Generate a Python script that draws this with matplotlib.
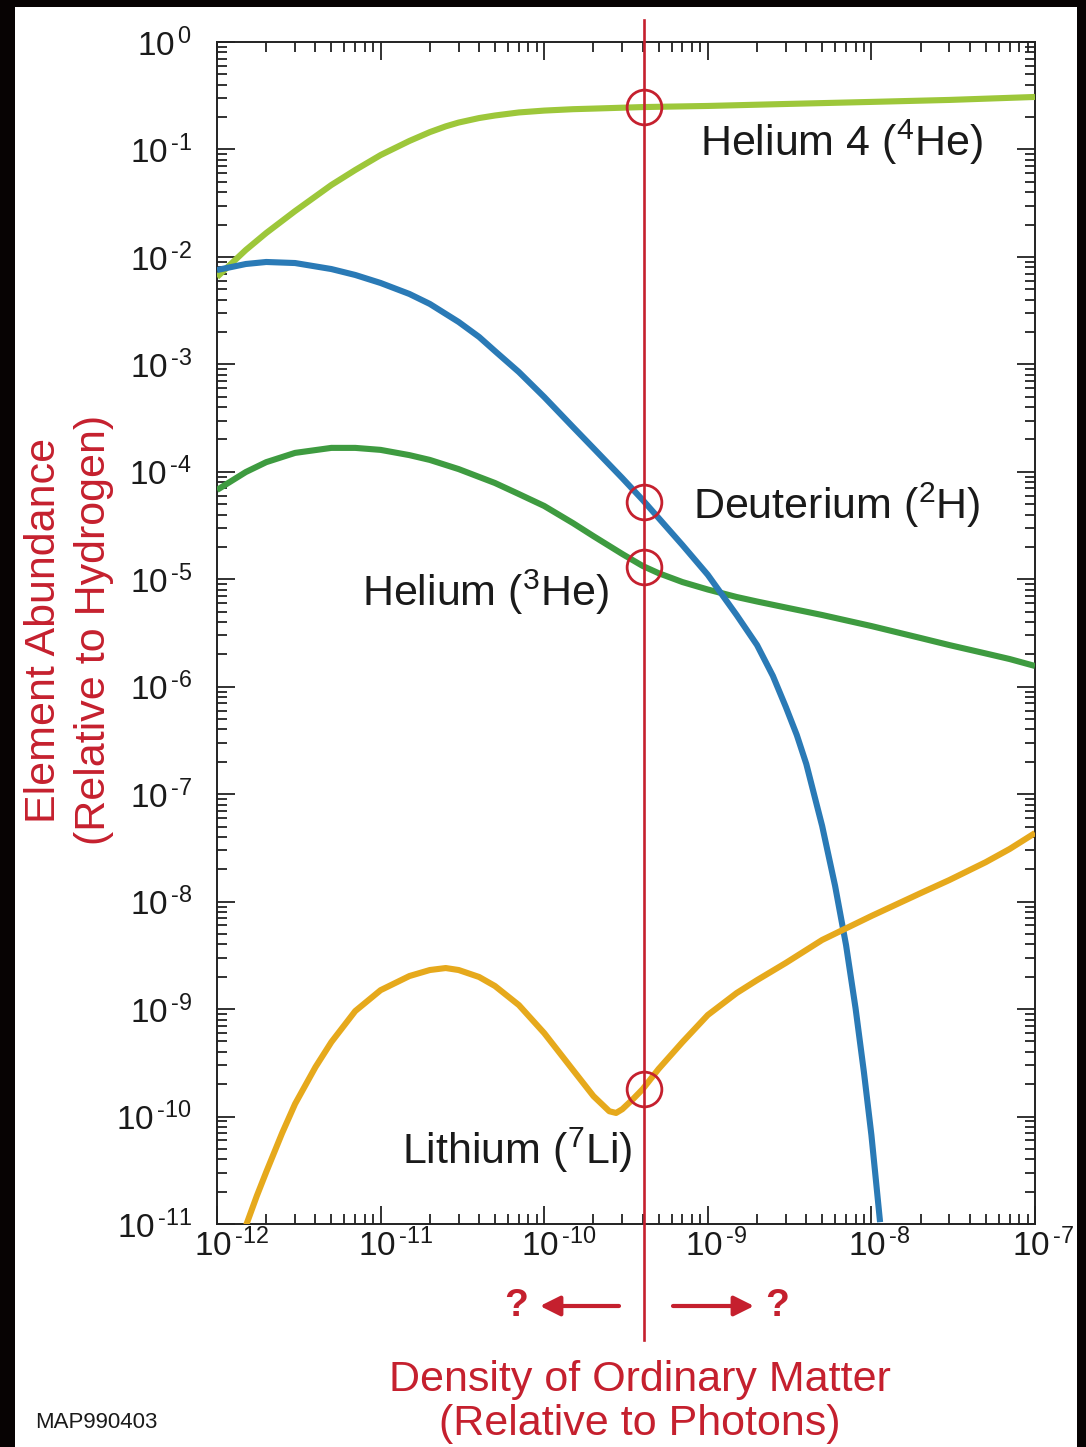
import numpy as np
import matplotlib
matplotlib.use("Agg")
import matplotlib.pyplot as plt
from matplotlib.ticker import LogLocator, FuncFormatter, NullFormatter
from matplotlib.patches import Rectangle
from matplotlib.transforms import ScaledTranslation

plt.rcParams['font.family'] = ['Liberation Sans', 'DejaVu Sans']
plt.rcParams['mathtext.fontset'] = 'custom'
plt.rcParams['mathtext.rm'] = 'Liberation Sans'
plt.rcParams['mathtext.it'] = 'Liberation Sans'
plt.rcParams['mathtext.bf'] = 'Liberation Sans:bold'

# ---------------- data ----------------
x_limits = [1e-12, 1e-7]
y_limits = [1e-11, 1e0]
eta_observed = 4.1e-10

he4_x = [1e-12, 1.5e-12, 2e-12, 3e-12, 5e-12, 7e-12, 1e-11, 1.5e-11, 2e-11, 2.5e-11,
         3e-11, 4e-11, 5e-11, 7e-11, 1e-10, 1.5e-10, 2e-10, 4e-10, 1e-9, 3e-9,
         1e-8, 3e-8, 1e-7]
he4_y = [6.50e-3, 1.16e-2, 1.67e-2, 2.67e-2, 4.67e-2, 6.44e-2, 8.87e-2, 0.120, 0.145, 0.164,
         0.178, 0.196, 0.207, 0.221, 0.230, 0.237, 0.240, 0.248, 0.254, 0.265,
         0.277, 0.289, 0.308]

d_x = [1e-12, 1.5e-12, 2e-12, 3e-12, 5e-12, 7e-12, 1e-11, 1.5e-11, 2e-11, 3e-11,
       4e-11, 5e-11, 7e-11, 1e-10, 1.5e-10, 2e-10, 3e-10, 4e-10, 5e-10, 7e-10, 1e-9,
       1.5e-9, 2e-9, 2.5e-9, 3e-9, 3.5e-9, 4e-9, 5e-9, 6e-9, 7e-9, 8e-9, 9e-9, 1e-8, 1.13e-8]
d_y = [7.55e-3, 8.59e-3, 8.97e-3, 8.77e-3, 7.71e-3, 6.79e-3, 5.72e-3, 4.52e-3, 3.65e-3, 2.48e-3,
       1.80e-3, 1.33e-3, 8.49e-4, 4.97e-4, 2.61e-4, 1.66e-4, 8.75e-5, 5.47e-5, 3.72e-5, 2.08e-5, 1.10e-5,
       4.65e-6, 2.44e-6, 1.26e-6, 6.47e-7, 3.55e-7, 1.91e-7, 5.06e-8, 1.40e-8, 3.94e-9, 1.02e-9,
       2.59e-10, 6.73e-11, 1.04e-11]

he3_x = [1e-12, 1.5e-12, 2e-12, 3e-12, 5e-12, 7e-12, 1e-11, 1.5e-11, 2e-11, 3e-11,
         5e-11, 7e-11, 1e-10, 1.5e-10, 2e-10, 3e-10, 4e-10, 5e-10, 7e-10, 1e-9,
         1.5e-9, 2e-9, 3e-9, 5e-9, 1e-8, 2e-8, 3e-8, 5e-8, 7e-8, 1e-7]
he3_y = [6.78e-5, 9.95e-5, 1.23e-4, 1.50e-4, 1.67e-4, 1.67e-4, 1.60e-4, 1.43e-4, 1.29e-4, 1.06e-4,
         7.87e-5, 6.21e-5, 4.81e-5, 3.33e-5, 2.52e-5, 1.72e-5, 1.33e-5, 1.14e-5, 9.42e-6, 8.03e-6,
         6.84e-6, 6.21e-6, 5.46e-6, 4.65e-6, 3.67e-6, 2.84e-6, 2.44e-6, 2.04e-6, 1.81e-6, 1.56e-6]

li_x = [1.5e-12, 1.75e-12, 2e-12, 2.5e-12, 3e-12, 4e-12, 5e-12, 7e-12, 1e-11, 1.5e-11,
        2e-11, 2.5e-11, 3e-11, 4e-11, 5e-11, 7e-11, 1e-10, 1.5e-10, 2e-10, 2.5e-10,
        2.75e-10, 3e-10, 3.5e-10, 4e-10, 5e-10, 7e-10, 1e-9, 1.5e-9, 2e-9, 3e-9,
        5e-9, 1e-8, 2e-8, 3e-8, 5e-8, 7e-8, 1e-7]
li_y = [9.57e-12, 1.82e-11, 3.05e-11, 7.01e-11, 1.31e-10, 2.89e-10, 4.93e-10, 9.59e-10, 1.50e-9, 2.03e-9,
        2.31e-9, 2.41e-9, 2.31e-9, 1.99e-9, 1.64e-9, 1.09e-9, 5.98e-10, 2.71e-10, 1.55e-10, 1.12e-10,
        1.08e-10, 1.17e-10, 1.46e-10, 1.80e-10, 2.77e-10, 4.93e-10, 8.81e-10, 1.41e-9, 1.86e-9, 2.69e-9,
        4.40e-9, 7.35e-9, 1.20e-8, 1.59e-8, 2.33e-8, 3.09e-8, 4.35e-8]

eta_abundances = [0.248, 5.2e-5, 1.3e-5, 1.8e-10]

labels = ["Helium 4 ($^{4}$He)", "Deuterium ($^{2}$H)", "Helium ($^{3}$He)", "Lithium ($^{7}$Li)"]
y_axis_label = "Element Abundance\n(Relative to Hydrogen)"
x_axis_label = "Density of Ordinary Matter\n(Relative to Photons)"
credit = "MAP990403"

# ---------------- style ----------------
c_he4 = "#9dc73a"
c_d = "#2a7ab6"
c_he3 = "#3e9b40"
c_li = "#e6a91c"
red = "#c5202e"
txt = "#1a1a1a"
W, H = 1086, 1447

fig = plt.figure(figsize=(W / 100, H / 100), dpi=100, facecolor="#070303")
fig.patches.append(Rectangle((15 / W, 0), 1062 / W, 1440 / H, transform=fig.transFigure,
                             facecolor="white", edgecolor="none", zorder=-10))
ax = fig.add_axes([217 / W, 1 - 1224 / H, 818 / W, 1182 / H])
ax.set_facecolor("white")
ax.set_xscale("log")
ax.set_yscale("log")
ax.set_xlim(x_limits)
ax.set_ylim(y_limits)

lw = 4.4
for xs, ys, c in [(he4_x, he4_y, c_he4), (he3_x, he3_y, c_he3), (d_x, d_y, c_d), (li_x, li_y, c_li)]:
    ax.plot(xs, ys, color=c, lw=lw, solid_capstyle="butt", solid_joinstyle="round", zorder=3)

ax.axvline(eta_observed, ymin=-0.098, ymax=1.019, color=red, lw=1.9, clip_on=False, zorder=4)
ax.plot([eta_observed] * len(eta_abundances), eta_abundances, "o", mfc="none", mec=red,
        ms=25, mew=2.0, zorder=5)

# ticks
ax.xaxis.set_major_locator(LogLocator(base=10, numticks=20))
ax.yaxis.set_major_locator(LogLocator(base=10, numticks=20))
ax.xaxis.set_minor_locator(LogLocator(base=10, subs=np.arange(2, 10), numticks=100))
ax.yaxis.set_minor_locator(LogLocator(base=10, subs=np.arange(2, 10), numticks=100))
ax.xaxis.set_minor_formatter(NullFormatter())
ax.yaxis.set_minor_formatter(NullFormatter())


def dec_fmt(v, p):
    e = int(round(np.log10(v)))
    if e < 0:
        return r"$10^{\,\text{-}%d}$" % (-e)
    return r"$10^{\,%d}$" % e


fmt = FuncFormatter(dec_fmt)
ax.xaxis.set_major_formatter(fmt)
ax.yaxis.set_major_formatter(fmt)
ax.tick_params(which="both", direction="in", top=True, right=True, color="#222222", width=1.3)
ax.tick_params(which="major", length=13)
ax.tick_params(which="minor", length=7)
ax.tick_params(axis="x", which="major", pad=3, labelsize=24, labelcolor=txt)
ax.tick_params(axis="y", which="major", pad=18, labelsize=24, labelcolor=txt)
for sp in ax.spines.values():
    sp.set_linewidth(1.4)
    sp.set_color("#222222")

shift = ScaledTranslation(-0.23, 0, fig.dpi_scale_trans)
for lab in ax.get_xticklabels():
    lab.set_horizontalalignment("left")
    lab.set_transform(lab.get_transform() + shift)

# curve labels
label_pos = [(0.590, 0.9154), (0.582, 0.6083), (0.1773, 0.5347), (0.2262, 0.0626)]
for s, (px, py) in zip(labels, label_pos):
    ax.text(px, py, s, transform=ax.transAxes, ha="left", va="center", fontsize=31, color=txt, zorder=6)

# axis labels
fig.text(69 / W, 1 - 630 / H, y_axis_label, rotation=90, ha="center", va="center",
         multialignment="center", color=red, fontsize=31, linespacing=1.3)
fig.text(640 / W, 1 - 1402 / H, x_axis_label, ha="center", va="center",
         multialignment="center", color=red, fontsize=31, linespacing=1.15)
fig.text(35 / W, 1 - 1422 / H, credit, ha="left", va="center", fontsize=16, color=txt)

# arrows with question marks
ya = 1 - 1306 / H
ax.annotate("", xy=(540 / W, ya), xytext=(619 / W, ya), xycoords="figure fraction",
            arrowprops=dict(arrowstyle="-|>", color=red, lw=3, mutation_scale=30, shrinkA=0, shrinkB=0))
ax.annotate("", xy=(754 / W, ya), xytext=(673 / W, ya), xycoords="figure fraction",
            arrowprops=dict(arrowstyle="-|>", color=red, lw=3, mutation_scale=30, shrinkA=0, shrinkB=0))
fig.text(516 / W, ya, "?", ha="center", va="center", fontsize=28, fontweight="bold", color=red)
fig.text(777 / W, ya, "?", ha="center", va="center", fontsize=28, fontweight="bold", color=red)

fig.savefig("out.png", dpi=100, facecolor=fig.get_facecolor())
